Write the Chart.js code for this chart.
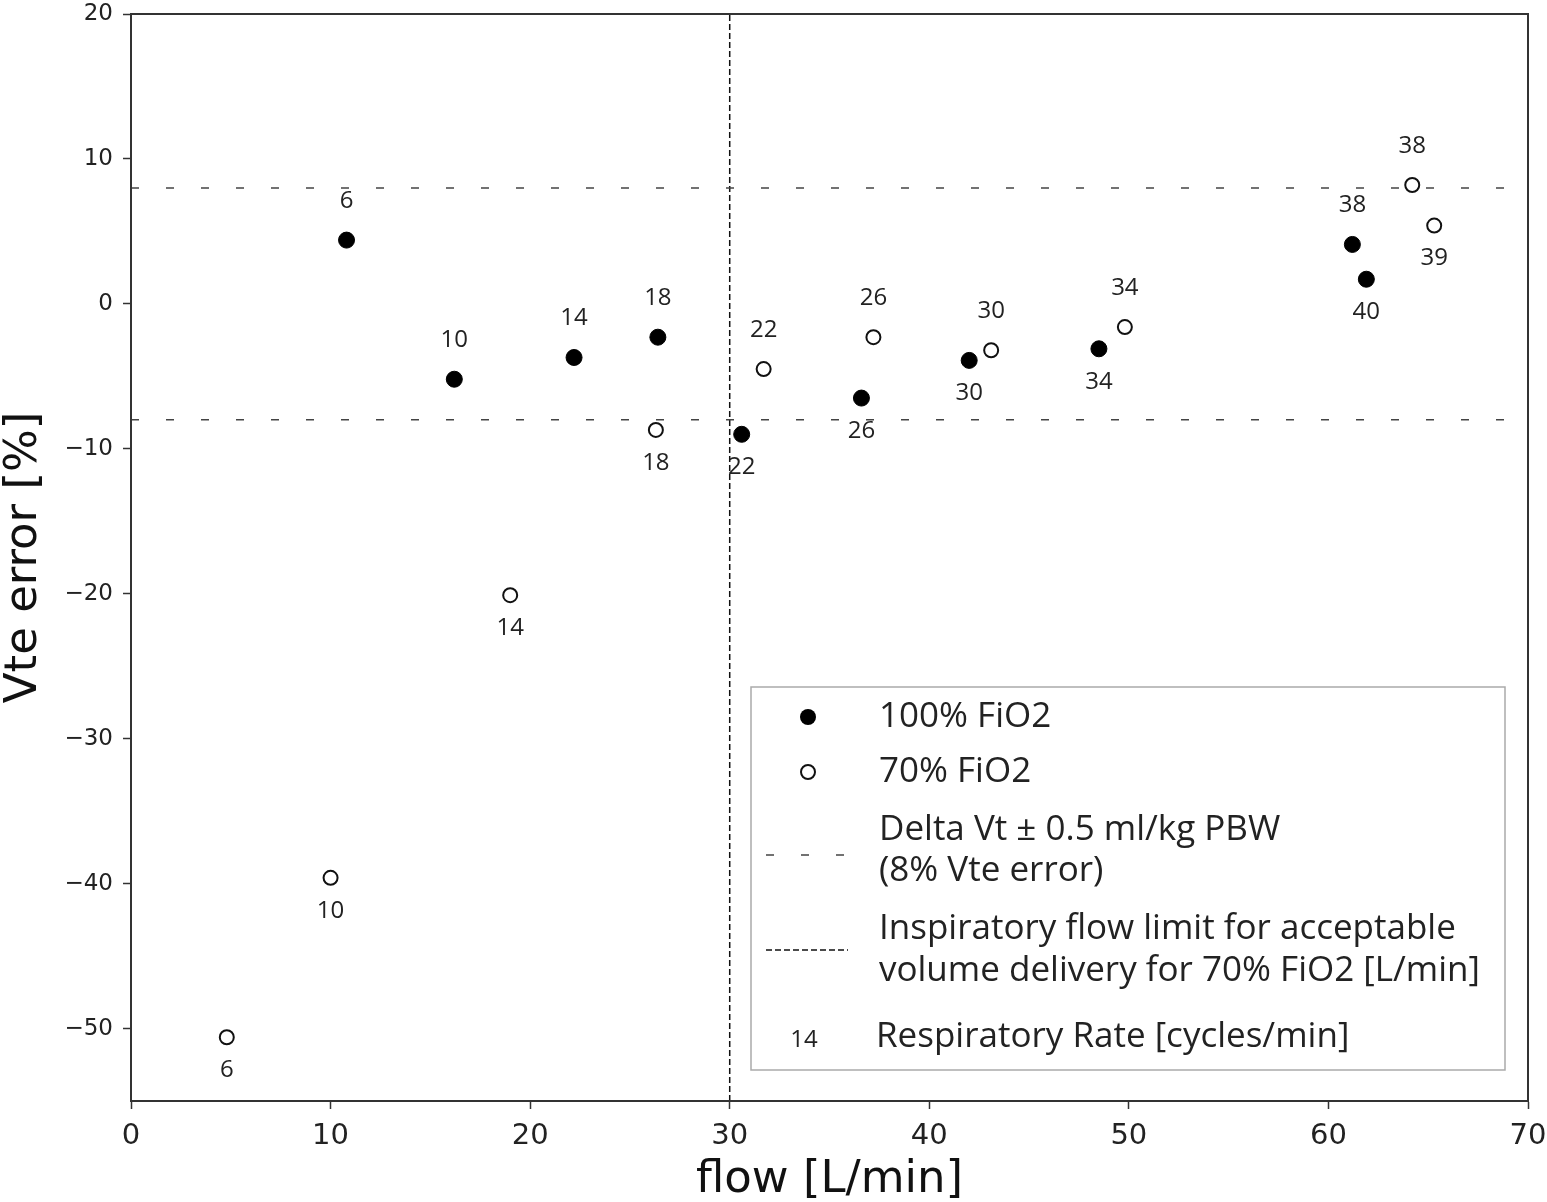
<!DOCTYPE html>
<html lang="en">
<head>
    <meta charset="UTF-8">
    <title>Vte error vs flow</title>
    <script src="https://cdnjs.cloudflare.com/ajax/libs/Chart.js/4.4.0/chart.umd.min.js"></script>
    <style>
        html, body { margin: 0; padding: 0; background: #fff; }
        .chart-container { position: relative; width: 1547px; height: 1202px; }
    </style>
</head>
<body>
    <div class="chart-container">
        <canvas id="vteChart" width="1547" height="1202"></canvas>
    </div>

    <script>
        // 100% FiO2 (filled markers)
        const flow100 = [10.8, 16.2, 22.2, 26.4, 30.6, 36.6, 42.0, 48.5, 61.2, 61.9];
        const err100 = [4.4, -5.2, -3.7, -2.3, -9.0, -6.5, -3.9, -3.1, 4.1, 1.7];
        const rr100 = [6, 10, 14, 18, 22, 26, 30, 34, 38, 40];

        // 70% FiO2 (open markers)
        const flow70 = [4.8, 10.0, 19.0, 26.3, 31.7, 37.2, 43.1, 49.8, 64.2, 65.3];
        const err70 = [-50.6, -39.6, -20.1, -8.7, -4.5, -2.3, -3.2, -1.6, 8.2, 5.4];
        const rr70 = [6, 10, 14, 18, 22, 26, 30, 34, 38, 39];

        // reference lines
        const errLimit = 8;     // +/- 8% Vte error
        const flowLimit = 30;   // L/min

        const xTicks = [0, 10, 20, 30, 40, 50, 60, 70];
        const yTicks = [-50, -40, -30, -20, -10, 0, 10, 20];

        // where each rate label sits relative to its marker
        const side100 = ['up', 'up', 'up', 'up', 'down', 'down', 'down', 'down', 'up', 'down'];
        const side70 = ['down', 'down', 'down', 'down', 'up', 'up', 'up', 'up', 'up', 'down'];

        const xMin = 0, xMax = 70, yMin = -55, yMax = 20;

        const rateLabels = {
            id: 'rateLabels',
            afterDatasetsDraw(chart) {
                const ctx = chart.ctx;
                ctx.save();
                ctx.font = '24px "Open Sans"';
                ctx.fillStyle = '#222';
                ctx.textAlign = 'center';
                ctx.textBaseline = 'middle';
                [[0, rr100, side100], [1, rr70, side70]].forEach(([idx, rates, sides]) => {
                    chart.getDatasetMeta(idx).data.forEach((pt, i) => {
                        const dy = sides[i] === 'up' ? -39 : 33;
                        ctx.fillText(String(rates[i]), pt.x, pt.y + dy);
                    });
                });
                ctx.restore();
            }
        };

        const frameAndLegend = {
            id: 'frameAndLegend',
            afterDraw(chart) {
                const ctx = chart.ctx;
                const a = chart.chartArea;
                ctx.save();
                // plot frame
                ctx.strokeStyle = '#333';
                ctx.lineWidth = 2;
                ctx.strokeRect(a.left, a.top, a.right - a.left, a.bottom - a.top);

                // legend box
                const bx = 751, by = 687, bw = 754, bh = 383;
                ctx.fillStyle = '#fff';
                ctx.fillRect(bx, by, bw, bh);
                ctx.strokeStyle = '#aaa';
                ctx.lineWidth = 1.5;
                ctx.strokeRect(bx, by, bw, bh);

                // markers
                ctx.fillStyle = '#000';
                ctx.beginPath();
                ctx.arc(808, 717, 8, 0, Math.PI * 2);
                ctx.fill();
                ctx.strokeStyle = '#111';
                ctx.lineWidth = 2;
                ctx.beginPath();
                ctx.arc(808, 772, 7, 0, Math.PI * 2);
                ctx.stroke();

                // line samples
                ctx.strokeStyle = '#444';
                ctx.lineWidth = 1.5;
                ctx.setLineDash([8, 27]);
                ctx.beginPath();
                ctx.moveTo(766, 855);
                ctx.lineTo(850, 855);
                ctx.stroke();
                ctx.strokeStyle = '#111';
                ctx.setLineDash([6, 3]);
                ctx.beginPath();
                ctx.moveTo(766, 950);
                ctx.lineTo(848, 950);
                ctx.stroke();
                ctx.setLineDash([]);

                // texts
                ctx.fillStyle = '#222';
                ctx.textBaseline = 'middle';
                ctx.textAlign = 'left';
                ctx.font = '35px "Open Sans"';
                ctx.fillText('100% FiO2', 879, 717);
                ctx.fillText('70% FiO2', 879, 772);
                ctx.fillText('Delta Vt \u00B1 0.5 ml/kg PBW', 879, 830);
                ctx.fillText('(8% Vte error)', 879, 871);
                ctx.fillText('Inspiratory flow limit for acceptable', 879, 929);
                ctx.fillText('volume delivery for 70% FiO2 [L/min]', 879, 971);
                ctx.fillText('Respiratory Rate [cycles/min]', 876, 1037);
                ctx.textAlign = 'center';
                ctx.font = '24px "Open Sans"';
                ctx.fillText('14', 804, 1040);
                ctx.restore();
            }
        };

        const ctx = document.getElementById('vteChart').getContext('2d');
        new Chart(ctx, {
            type: 'scatter',
            data: {
                datasets: [{
                    label: '100% FiO2',
                    data: flow100.map((x, i) => ({ x: x, y: err100[i] })),
                    pointRadius: 8,
                    pointBackgroundColor: '#000',
                    pointBorderColor: '#000',
                    pointBorderWidth: 1
                }, {
                    label: '70% FiO2',
                    data: flow70.map((x, i) => ({ x: x, y: err70[i] })),
                    pointRadius: 7,
                    pointBackgroundColor: '#fff',
                    pointBorderColor: '#111',
                    pointBorderWidth: 2
                }, {
                    label: 'upper limit',
                    type: 'line',
                    data: [{ x: xMin, y: errLimit }, { x: xMax, y: errLimit }],
                    borderColor: '#444',
                    borderWidth: 1.5,
                    borderDash: [8, 27],
                    pointRadius: 0
                }, {
                    label: 'lower limit',
                    type: 'line',
                    data: [{ x: xMin, y: -errLimit }, { x: xMax, y: -errLimit }],
                    borderColor: '#444',
                    borderWidth: 1.5,
                    borderDash: [8, 27],
                    pointRadius: 0
                }, {
                    label: 'flow limit',
                    type: 'line',
                    data: [{ x: flowLimit, y: yMin }, { x: flowLimit, y: yMax }],
                    borderColor: '#111',
                    borderWidth: 1.5,
                    borderDash: [6, 3],
                    pointRadius: 0
                }]
            },
            options: {
                responsive: false,
                animation: false,
                devicePixelRatio: 1,
                layout: { padding: { top: 14, right: 19, left: 0, bottom: 0 } },
                plugins: {
                    legend: { display: false },
                    tooltip: { enabled: false }
                },
                scales: {
                    x: {
                        type: 'linear',
                        min: xMin,
                        max: xMax,
                        afterBuildTicks: s => { s.ticks = xTicks.map(v => ({ value: v })); },
                        afterFit: s => { s.height = 101; s.paddingLeft = 0; s.paddingRight = 0; },
                        ticks: {
                            font: { family: '"DejaVu Sans"', size: 29 },
                            color: '#222',
                            padding: 10,
                            maxRotation: 0
                        },
                        grid: { drawOnChartArea: false, tickLength: 8, color: '#333', tickWidth: 1.5 },
                        border: { color: '#333', width: 2 },
                        title: {
                            display: true,
                            text: 'flow [L/min]',
                            font: { family: '"DejaVu Sans"', size: 45, lineHeight: 0.95 },
                            color: '#111',
                            padding: { top: 0, bottom: 0 }
                        }
                    },
                    y: {
                        type: 'linear',
                        min: yMin,
                        max: yMax,
                        afterBuildTicks: s => { s.ticks = yTicks.map(v => ({ value: v })); },
                        afterFit: s => { s.width = 131; s.paddingTop = 0; s.paddingBottom = 0; },
                        ticks: {
                            font: { family: '"DejaVu Sans"', size: 23 },
                            color: '#222',
                            padding: 10,
                            callback: v => String(v).replace('-', '\u2212')
                        },
                        grid: { drawOnChartArea: false, tickLength: 8, color: '#333', tickWidth: 1.5 },
                        border: { color: '#333', width: 2 },
                        title: {
                            display: true,
                            text: 'Vte error [%]',
                            font: { family: '"DejaVu Sans"', size: 45, lineHeight: 1.1 },
                            color: '#111',
                            padding: { top: 0, bottom: 0 }
                        }
                    }
                }
            },
            plugins: [rateLabels, frameAndLegend]
        });
    </script>
</body>
</html>
